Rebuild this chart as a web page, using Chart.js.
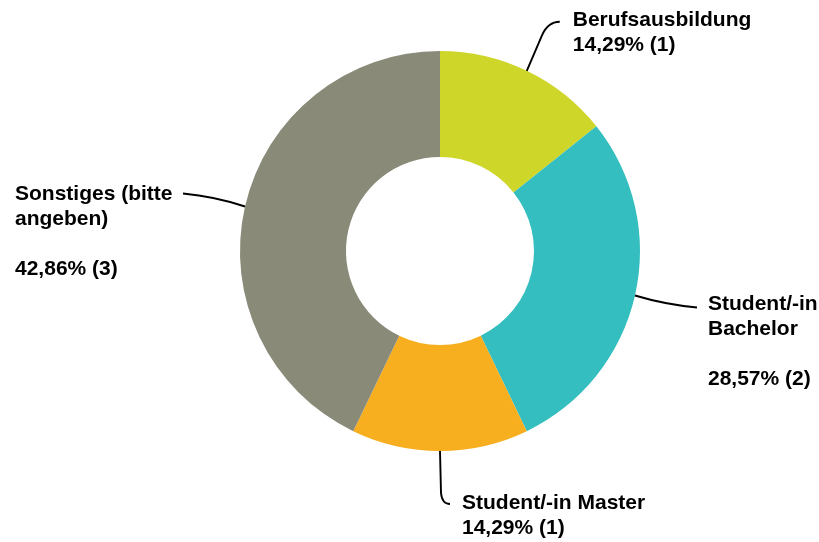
<!DOCTYPE html>
<html>
<head>
<meta charset="utf-8">
<script src="https://cdn.jsdelivr.net/npm/chart.js@4/dist/chart.umd.min.js"></script>
<style>
  html, body { margin: 0; padding: 0; background: #fff; }
  #wrap { width: 819px; height: 542px; position: relative; }
</style>
</head>
<body>
<div id="wrap"><canvas id="chart"></canvas></div>
<script>
// data
const categories = ['Berufsausbildung', 'Student/-in Bachelor', 'Student/-in Master', 'Sonstiges (bitte angeben)'];
const values = [1, 2, 1, 3];
const labelLines = [
  ['Berufsausbildung'],
  ['Student/-in', 'Bachelor', ''],
  ['Student/-in Master'],
  ['Sonstiges (bitte', 'angeben)', '']
];
const colors = ['#CFD62A', '#34BEC0', '#F7AE1F', '#898A78'];

// label placement relative to the slice's outer mid point
const labelLayout = [
  { dx: 46, dy: -45, path: (c, a) => { c.moveTo(a.x, a.y); c.lineTo(a.x + 15, a.y - 35); c.quadraticCurveTo(a.x + 21, a.y - 49, a.x + 33, a.y - 49); } },
  { dx: 73, dy: 14.5, path: (c, a) => { c.moveTo(a.x, a.y); c.quadraticCurveTo(a.x + 30, a.y + 9, a.x + 62, a.y + 12); } },
  { dx: 22, dy: 58, path: (c, a) => { c.moveTo(a.x, a.y); c.lineTo(a.x + 1, a.y + 42); c.quadraticCurveTo(a.x + 2, a.y + 53, a.x + 10, a.y + 53); } },
  { dx: -230, dy: -6.5, path: (c, a) => { c.moveTo(a.x, a.y); c.quadraticCurveTo(a.x - 30, a.y - 10, a.x - 62, a.y - 13); } }
];

const total = values.reduce((s, v) => s + v, 0);
const pctText = v => (v / total * 100).toFixed(2).replace('.', ',') + '% (' + v + ')';

const leaderLabels = {
  id: 'leaderLabels',
  afterDatasetsDraw(chart) {
    const ctx = chart.ctx;
    const meta = chart.getDatasetMeta(0);
    ctx.save();
    meta.data.forEach((arc, i) => {
      const mid = (arc.startAngle + arc.endAngle) / 2;
      const a = { x: arc.x + Math.cos(mid) * arc.outerRadius, y: arc.y + Math.sin(mid) * arc.outerRadius };
      const lay = labelLayout[i];
      ctx.beginPath();
      lay.path(ctx, a);
      ctx.strokeStyle = '#000';
      ctx.lineWidth = 1.9;
      ctx.stroke();

      const lines = labelLines[i].concat([pctText(values[i])]);
      ctx.fillStyle = '#000';
      ctx.font = 'bold 21px "Liberation Sans", Arial, sans-serif';
      ctx.textAlign = 'left';
      ctx.textBaseline = 'alphabetic';
      lines.forEach((t, k) => {
        ctx.fillText(t, a.x + lay.dx, a.y + lay.dy + k * 25);
      });
    });
    ctx.restore();
  }
};

new Chart(document.getElementById('chart'), {
  type: 'doughnut',
  data: {
    labels: categories,
    datasets: [{
      data: values,
      backgroundColor: colors,
      borderWidth: 0
    }]
  },
  options: {
    responsive: true,
    maintainAspectRatio: false,
    animation: false,
    cutout: '47%',
    layout: { padding: { top: 51, bottom: 91, left: 240, right: 179 } },
    plugins: {
      legend: { display: false },
      tooltip: { enabled: false }
    }
  },
  plugins: [leaderLabels]
});
</script>
</body>
</html>
